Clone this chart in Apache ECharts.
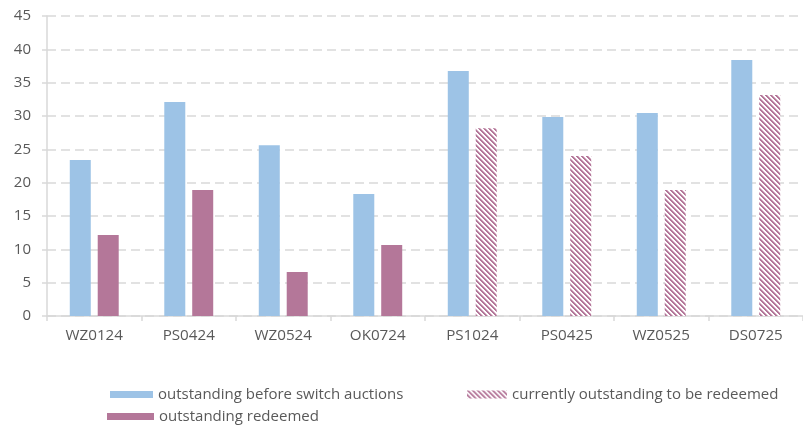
<!DOCTYPE html>
<html>
<head>
<meta charset="utf-8">
<script src="https://cdn.jsdelivr.net/npm/echarts@6/dist/echarts.min.js"></script>
<style>
  html, body { margin: 0; padding: 0; background: #fff; }
  #chart { width: 803px; height: 428px; }
</style>
</head>
<body>
<div id="chart"></div>
<script>
const categories = ['WZ0124', 'PS0424', 'WZ0524', 'OK0724', 'PS1024', 'PS0425', 'WZ0525', 'DS0725']
const beforeSwitch = [23.4, 32.1, 25.6, 18.3, 36.75, 29.85, 30.45, 38.4]
const redeemed = [12.15, 18.9, 6.6, 10.65, null, null, null, null]
const toBeRedeemed = [null, null, null, null, 28.15, 24.0, 18.9, 33.15]
const yTicks = { min: 0, max: 45, interval: 5 }

const BLUE = '#9dc3e6'
const PURPLE = '#b47799'
const TEXT = '#595959'
const LINE = '#d9d9d9'
const FONT = '"Open Sans", sans-serif'

// diagonal stripes (downward), period 5px
function makeHatch() {
  const n = 5
  const c = document.createElement('canvas')
  c.width = n
  c.height = n
  const ctx = c.getContext('2d')
  ctx.fillStyle = '#ffffff'
  ctx.fillRect(0, 0, n, n)
  for (let x = 0; x < n; x++) {
    for (let y = 0; y < n; y++) {
      const d = ((x - y) % n + n) % n
      if (d === 0 || d === 1) {
        ctx.fillStyle = PURPLE
        ctx.fillRect(x, y, 1, 1)
      } else if (d === 2) {
        ctx.fillStyle = '#d9b5ca'
        ctx.fillRect(x, y, 1, 1)
      }
    }
  }
  return { image: c, repeat: 'repeat' }
}
const hatch = makeHatch()

const chart = echarts.init(document.getElementById('chart'))

const legendText = { color: TEXT, fontSize: 15, fontFamily: FONT }

chart.setOption({
  animation: false,
  textStyle: { fontFamily: FONT },
  grid: { left: 47, right: 0, top: 16, bottom: 112, containLabel: false },
  legend: [
    {
      data: ['outstanding before switch auctions'],
      left: 110, top: 387, padding: 0,
      itemWidth: 43, itemHeight: 7, icon: 'rect',
      textStyle: legendText
    },
    {
      data: ['currently outstanding to be redeemed'],
      left: 467, top: 387, padding: 0,
      itemWidth: 40, itemHeight: 8, icon: 'rect',
      textStyle: legendText
    },
    {
      data: ['outstanding redeemed'],
      left: 107, top: 409, padding: 0,
      itemWidth: 47, itemHeight: 7, icon: 'rect',
      textStyle: legendText
    }
  ],
  xAxis: {
    type: 'category',
    data: categories,
    axisLine: { lineStyle: { color: LINE, width: 1.5 } },
    axisTick: { show: true, length: 5, lineStyle: { color: LINE, width: 1.5 } },
    axisLabel: { color: TEXT, fontSize: 15.2, margin: 12, fontFamily: FONT }
  },
  yAxis: {
    type: 'value',
    min: yTicks.min,
    max: yTicks.max,
    interval: yTicks.interval,
    axisLine: { show: true, lineStyle: { color: LINE, width: 1.5 } },
    axisTick: { show: true, length: 5, lineStyle: { color: LINE, width: 1.5 } },
    axisLabel: { color: TEXT, fontSize: 15, margin: 16, fontFamily: FONT },
    splitLine: { lineStyle: { color: LINE, type: [9, 5], width: 1.5 } }
  },
  series: [
    {
      name: 'outstanding before switch auctions',
      type: 'bar',
      data: beforeSwitch,
      barWidth: 21,
      barGap: '33%',
      itemStyle: { color: BLUE }
    },
    {
      name: 'outstanding redeemed',
      type: 'bar',
      stack: 'after',
      data: redeemed,
      barWidth: 21,
      itemStyle: { color: PURPLE }
    },
    {
      name: 'currently outstanding to be redeemed',
      type: 'bar',
      stack: 'after',
      data: toBeRedeemed,
      barWidth: 21,
      itemStyle: { color: hatch }
    }
  ]
})
</script>
</body>
</html>
